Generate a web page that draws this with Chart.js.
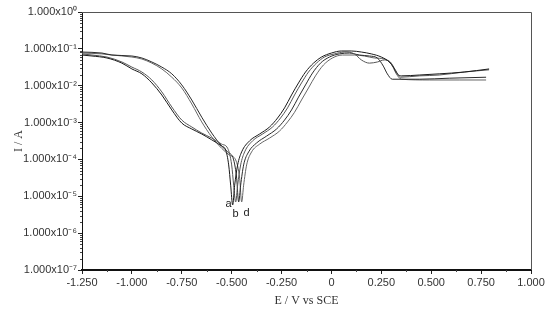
<!DOCTYPE html>
<html>
<head>
<meta charset="utf-8">
<script src="https://cdn.jsdelivr.net/npm/chart.js@4.4.1/dist/chart.umd.min.js"></script>
<style>
  html, body { margin: 0; padding: 0; background: #fff; }
  #wrap { width: 552px; height: 318px; }
</style>
</head>
<body>
<div id="wrap"><canvas id="tafelChart"></canvas></div>
<script>
// potential (V vs SCE) and current (A)
const potentialA = [-1.25,-1.2,-1.125,-1.05,-1.0,-0.95,-0.9,-0.85,-0.8,-0.75,-0.7,-0.65,-0.6,-0.55,-0.53,-0.515,-0.505,-0.495,-0.485,-0.47,-0.45,-0.41,-0.36,-0.31,-0.27,-0.235,-0.2,-0.165,-0.13,-0.09,-0.05,0,0.05,0.1,0.15,0.2,0.25,0.29,0.31,0.33,0.35,0.44,0.54,0.665,0.79];
const currentA = [6.8e-2,6.4e-2,5.65e-2,4.1e-2,2.85e-2,2.1e-2,1.19e-2,5.6e-3,2.2e-3,9.7e-4,6.7e-4,4.9e-4,3.4e-4,2.3e-4,1.8e-4,7.1e-5,2.0e-5,5.8e-6,2.0e-5,7.1e-5,1.6e-4,3.2e-4,4.9e-4,7.6e-4,1.33e-3,2.5e-3,5.6e-3,1.19e-2,2.35e-2,4.1e-2,6.0e-2,7.7e-2,8.75e-2,8.75e-2,8.2e-2,7.3e-2,6.0e-2,4.4e-2,3.2e-2,2.1e-2,1.85e-2,1.95e-2,2.1e-2,2.35e-2,2.85e-2];

const potentialB = [-1.25,-1.2,-1.125,-1.05,-1.0,-0.95,-0.9,-0.85,-0.8,-0.75,-0.7,-0.65,-0.6,-0.55,-0.52,-0.5,-0.49,-0.48,-0.47,-0.455,-0.435,-0.395,-0.345,-0.295,-0.255,-0.22,-0.185,-0.15,-0.115,-0.075,-0.035,0.015,0.065,0.115,0.15,0.19,0.23,0.265,0.295,0.32,0.345,0.44,0.54,0.665,0.79];
const currentB = [7.3e-2,6.8e-2,6.0e-2,4.4e-2,3.2e-2,2.35e-2,1.43e-2,6.8e-3,2.65e-3,1.17e-3,7.6e-4,5.2e-4,3.8e-4,2.6e-4,2.0e-4,7.1e-5,2.0e-5,7.0e-6,2.0e-5,7.1e-5,1.6e-4,3.2e-4,4.9e-4,7.6e-4,1.33e-3,2.5e-3,5.6e-3,1.19e-2,2.35e-2,4.1e-2,6.0e-2,7.3e-2,8.2e-2,7.3e-2,5.0e-2,4.1e-2,4.4e-2,5.0e-2,4.4e-2,2.7e-2,1.7e-2,1.85e-2,1.95e-2,2.35e-2,2.7e-2];

const potentialC = [-1.25,-1.15,-1.1,-1.0,-0.95,-0.9,-0.85,-0.8,-0.75,-0.7,-0.65,-0.6,-0.55,-0.52,-0.49,-0.475,-0.465,-0.455,-0.44,-0.415,-0.375,-0.325,-0.275,-0.235,-0.2,-0.165,-0.13,-0.095,-0.055,-0.01,0.04,0.09,0.14,0.19,0.23,0.26,0.28,0.305,0.44,0.59,0.775];
const currentC = [8.2e-2,7.7e-2,6.8e-2,6.4e-2,5.65e-2,4.4e-2,3.2e-2,2.1e-2,1.05e-2,4.1e-3,1.4e-3,5.2e-4,2.3e-4,1.6e-4,9.7e-5,3.1e-5,7.0e-6,2.0e-5,7.1e-5,1.6e-4,2.8e-4,4.3e-4,6.7e-4,1.17e-3,2.2e-3,4.9e-3,1.05e-2,2.2e-2,4.1e-2,6.0e-2,7.3e-2,7.7e-2,6.8e-2,6.4e-2,5.65e-2,3.4e-2,2.1e-2,1.5e-2,1.5e-2,1.6e-2,1.7e-2];

const potentialD = [-1.25,-1.15,-1.1,-1.0,-0.95,-0.9,-0.85,-0.8,-0.75,-0.7,-0.65,-0.6,-0.55,-0.51,-0.48,-0.46,-0.45,-0.44,-0.425,-0.4,-0.36,-0.31,-0.26,-0.22,-0.185,-0.15,-0.115,-0.08,-0.04,0.005,0.055,0.115,0.165,0.215,0.265,0.3,0.325,0.35,0.49,0.64,0.775];
const currentD = [7.7e-2,7.3e-2,6.8e-2,6.0e-2,5.3e-2,4.1e-2,2.85e-2,1.7e-2,8.7e-3,3.2e-3,1.04e-3,4.1e-4,2.0e-4,1.3e-4,9.7e-5,3.1e-5,7.0e-6,2.0e-5,7.1e-5,1.6e-4,2.6e-4,3.8e-4,5.9e-4,1.04e-3,1.9e-3,4.1e-3,8.7e-3,1.85e-2,3.65e-2,5.65e-2,6.8e-2,6.8e-2,6.4e-2,5.65e-2,5.3e-2,3.9e-2,2.1e-2,1.5e-2,1.43e-2,1.43e-2,1.43e-2];

// curve letters written next to the corrosion-potential spikes
const curveLetters = ['a', 'b', 'd'];
const letterPotential = [-0.515, -0.48, -0.425];
const letterCurrent = [6.2e-6, 3.3e-6, 3.5e-6];

// axis ticks
const xTicks = [-1.25, -1.0, -0.75, -0.5, -0.25, 0, 0.25, 0.5, 0.75, 1.0];
const xTickLabels = ['-1.250', '-1.000', '-0.750', '-0.500', '-0.250', '0', '0.250', '0.500', '0.750', '1.000'];
const yTicks = [1e-7, 1e-6, 1e-5, 1e-4, 1e-3, 1e-2, 1e-1, 1e0];
const yTickLabels = ['1.000x10\u207B\u2077', '1.000x10\u207B\u2076', '1.000x10\u207B\u2075', '1.000x10\u207B\u2074',
                     '1.000x10\u207B\u00B3', '1.000x10\u207B\u00B2', '1.000x10\u207B\u00B9', '1.000x10\u2070'];

function toPoints(xs, ys) {
    return xs.map(function(x, i) { return { x: x, y: ys[i] }; });
}

function line(data, color) {
    return {
        data: data,
        borderColor: color,
        borderWidth: 1,
        pointRadius: 0,
        showLine: true,
        fill: false,
        cubicInterpolationMode: 'monotone'
    };
}

// frame, minor ticks and the curve letters
const decorations = {
    id: 'decorations',
    afterDraw: function(chart) {
        const ctx = chart.ctx;
        const a = chart.chartArea;
        const xs = chart.scales.x;
        const ys = chart.scales.y;
        ctx.save();
        ctx.strokeStyle = '#555';
        ctx.lineWidth = 1;
        ctx.beginPath();
        ctx.moveTo(a.left, a.top + 0.5);
        ctx.lineTo(a.right + 0.5, a.top + 0.5);
        ctx.lineTo(a.right + 0.5, a.bottom);
        ctx.stroke();

        ctx.strokeStyle = '#444';
        ctx.beginPath();
        for (let d = 0; d < yTicks.length - 1; d++) {
            for (let m = 2; m <= 9; m++) {
                const py = Math.round(ys.getPixelForValue(yTicks[d] * m)) + 0.5;
                ctx.moveTo(a.left - 2, py);
                ctx.lineTo(a.left, py);
            }
        }
        for (let i = 0; i < xTicks.length - 1; i++) {
            const px = Math.round(xs.getPixelForValue((xTicks[i] + xTicks[i + 1]) / 2)) + 0.5;
            ctx.moveTo(px, a.bottom);
            ctx.lineTo(px, a.bottom + 2);
        }
        ctx.stroke();

        ctx.fillStyle = '#222';
        ctx.font = '11px "Liberation Sans", Arial, sans-serif';
        ctx.textAlign = 'center';
        ctx.textBaseline = 'middle';
        curveLetters.forEach(function(t, i) {
            ctx.fillText(t, xs.getPixelForValue(letterPotential[i]), ys.getPixelForValue(letterCurrent[i]));
        });
        ctx.restore();
    }
};

document.addEventListener('DOMContentLoaded', function() {
    const canvas = document.getElementById('tafelChart');
    new Chart(canvas, {
        type: 'scatter',
        data: {
            datasets: [
                line(toPoints(potentialA, currentA), '#1a1a1a'),
                line(toPoints(potentialB, currentB), '#555555'),
                line(toPoints(potentialC, currentC), '#2a2a2a'),
                line(toPoints(potentialD, currentD), '#666666')
            ]
        },
        options: {
            responsive: true,
            maintainAspectRatio: false,
            animation: false,
            layout: { padding: { left: 0, right: 21, top: 12, bottom: 0 } },
            plugins: {
                legend: { display: false },
                tooltip: { enabled: false }
            },
            scales: {
                x: {
                    type: 'linear',
                    min: -1.25,
                    max: 1.0,
                    afterBuildTicks: function(scale) {
                        scale.ticks = xTicks.map(function(v) { return { value: v }; });
                    },
                    afterFit: function(scale) { scale.height = 48; },
                    ticks: {
                        autoSkip: false,
                        maxRotation: 0,
                        padding: 2,
                        color: '#333',
                        font: { family: '"Liberation Sans", Arial, sans-serif', size: 11 },
                        callback: function(value, index) { return xTickLabels[index]; }
                    },
                    grid: { drawOnChartArea: false, tickLength: 4, color: '#222' },
                    border: { color: '#111', width: 2 },
                    title: {
                        display: true,
                        text: 'E / V vs SCE',
                        color: '#333',
                        font: { family: '"Liberation Serif", "Times New Roman", serif', size: 12 },
                        padding: { top: 0, bottom: 10 }
                    }
                },
                y: {
                    type: 'logarithmic',
                    min: 1e-7,
                    max: 1,
                    afterBuildTicks: function(scale) {
                        scale.ticks = yTicks.map(function(v) { return { value: v }; });
                    },
                    afterFit: function(scale) { scale.width = 82; },
                    ticks: {
                        autoSkip: false,
                        padding: 1,
                        color: '#333',
                        font: { family: '"Liberation Sans", Arial, sans-serif', size: 11 },
                        callback: function(value, index) { return yTickLabels[index]; }
                    },
                    grid: { drawOnChartArea: false, tickLength: 4, color: '#222' },
                    border: { color: '#111', width: 1 },
                    title: {
                        display: true,
                        text: 'I / A',
                        color: '#333',
                        font: { family: '"Liberation Serif", "Times New Roman", serif', size: 12 },
                        padding: { top: 12, bottom: 0 }
                    }
                }
            }
        },
        plugins: [decorations]
    });
});
</script>
</body>
</html>
